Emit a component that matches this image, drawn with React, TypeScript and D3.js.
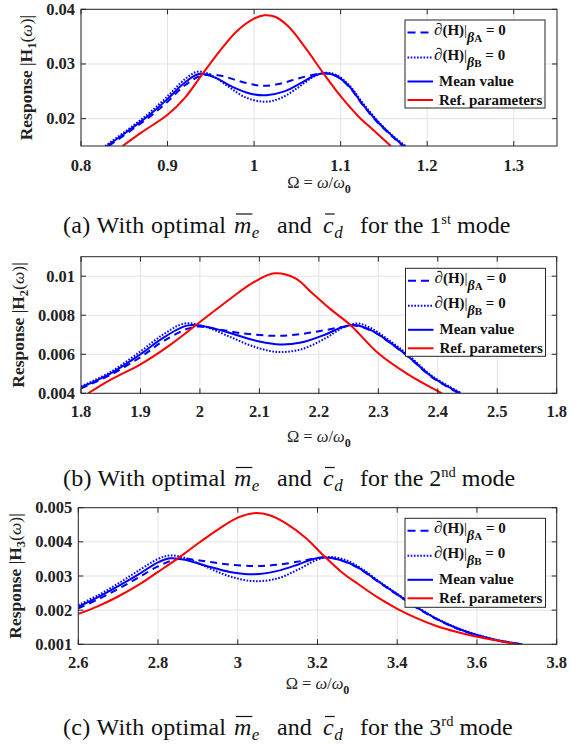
import React, { useEffect, useRef } from 'react';
import * as d3 from 'd3';

type Pt = [number, number];

// ---------------- data: mode 1 ----------------
const mode1XTicks = [0.8, 0.9, 1, 1.1, 1.2, 1.3];
const mode1XTickLabels = ['0.8', '0.9', '1', '1.1', '1.2', '1.3'];
const mode1YTicks = [0.02, 0.03, 0.04];
const mode1YTickLabels = ['0.02', '0.03', '0.04'];
const mode1Dashed: Pt[] = [
  [0.832, 0.015], [0.86, 0.0181], [0.88, 0.0204], [0.9, 0.0231], [0.92, 0.0261], [0.94, 0.0279],
  [0.96, 0.0279], [0.98, 0.027], [1.0, 0.0262], [1.012, 0.026], [1.03, 0.0264], [1.05, 0.0273],
  [1.07, 0.0281], [1.082, 0.0283], [1.095, 0.0278], [1.11, 0.0258], [1.125, 0.0226], [1.144, 0.0191],
  [1.16, 0.0167], [1.172, 0.015],
];
const mode1Dotted: Pt[] = [
  [0.828, 0.015], [0.86, 0.0187], [0.88, 0.0212], [0.9, 0.0241], [0.92, 0.0272], [0.935, 0.0286],
  [0.95, 0.028], [0.97, 0.0259], [0.99, 0.0239], [1.012, 0.0231], [1.03, 0.0237], [1.05, 0.0256],
  [1.068, 0.0276], [1.082, 0.0284], [1.095, 0.028], [1.11, 0.0261], [1.125, 0.023], [1.144, 0.0194],
  [1.16, 0.0169], [1.175, 0.015],
];
const mode1Mean: Pt[] = [
  [0.83, 0.015], [0.845, 0.0167], [0.86, 0.0184], [0.88, 0.0208], [0.9, 0.0236], [0.92, 0.0266],
  [0.937, 0.0282], [0.955, 0.0275], [0.975, 0.0258], [0.995, 0.0246], [1.014, 0.0243], [1.035, 0.025],
  [1.055, 0.0266], [1.07, 0.0279], [1.082, 0.0283], [1.095, 0.0278], [1.11, 0.0259], [1.125, 0.0227],
  [1.144, 0.0192], [1.16, 0.0168], [1.173, 0.015],
];
const mode1Ref: Pt[] = [
  [0.848, 0.015], [0.87, 0.0175], [0.9, 0.0207], [0.92, 0.0238], [0.94, 0.0281], [0.96, 0.0323],
  [0.98, 0.036], [1.0, 0.0383], [1.012, 0.0389], [1.025, 0.0386], [1.04, 0.0368], [1.06, 0.0328],
  [1.08, 0.0283], [1.1, 0.0241], [1.12, 0.0205], [1.14, 0.0176], [1.158, 0.015],
];

// ---------------- data: mode 2 ----------------
const mode2XTicks = [1.8, 1.9, 2, 2.1, 2.2, 2.3, 2.4, 2.5, 2.6];
const mode2XTickLabels = ['1.8', '1.9', '2', '2.1', '2.2', '2.3', '2.4', '2.5', '1.8'];
const mode2YTicks = [0.004, 0.006, 0.008, 0.01];
const mode2YTickLabels = ['0.004', '0.006', '0.008', '0.01'];
const mode2Dashed: Pt[] = [
  [1.8, 0.00425], [1.85, 0.00495], [1.9, 0.00585], [1.94, 0.0067], [1.99, 0.0074], [2.03, 0.00728],
  [2.07, 0.00708], [2.12, 0.00695], [2.16, 0.007], [2.2, 0.00718], [2.24, 0.0074], [2.26, 0.00748],
  [2.29, 0.00718], [2.32, 0.00658], [2.35, 0.00588], [2.39, 0.00483], [2.435, 0.004],
];
const mode2Dotted: Pt[] = [
  [1.8, 0.00435], [1.85, 0.0051], [1.9, 0.00615], [1.94, 0.00705], [1.975, 0.00758], [2.01, 0.0074],
  [2.05, 0.0069], [2.09, 0.0064], [2.13, 0.00612], [2.17, 0.00625], [2.21, 0.0068], [2.24, 0.00735],
  [2.265, 0.00758], [2.29, 0.0073], [2.32, 0.00668], [2.35, 0.00598], [2.39, 0.0049], [2.44, 0.004],
];
const mode2Mean: Pt[] = [
  [1.8, 0.0043], [1.85, 0.00502], [1.9, 0.006], [1.94, 0.00688], [1.98, 0.00748], [2.02, 0.00735],
  [2.06, 0.007], [2.1, 0.00665], [2.135, 0.0065], [2.17, 0.0066], [2.21, 0.007], [2.24, 0.0074],
  [2.26, 0.0075], [2.29, 0.0072], [2.32, 0.0066], [2.35, 0.0059], [2.39, 0.00485], [2.438, 0.004],
];
const mode2Ref: Pt[] = [
  [1.812, 0.004], [1.85, 0.0047], [1.9, 0.00548], [1.95, 0.00648], [2.0, 0.00765], [2.05, 0.00882],
  [2.09, 0.00968], [2.125, 0.01015], [2.16, 0.0099], [2.19, 0.0091], [2.22, 0.0083], [2.253, 0.0075],
  [2.3, 0.00605], [2.35, 0.00497], [2.407, 0.004],
];

// ---------------- data: mode 3 ----------------
const mode3XTicks = [2.6, 2.8, 3, 3.2, 3.4, 3.6, 3.8];
const mode3XTickLabels = ['2.6', '2.8', '3', '3.2', '3.4', '3.6', '3.8'];
const mode3YTicks = [0.001, 0.002, 0.003, 0.004, 0.005];
const mode3YTickLabels = ['0.001', '0.002', '0.003', '0.004', '0.005'];
const mode3Dashed: Pt[] = [
  [2.6, 0.00205], [2.65, 0.00232], [2.7, 0.00262], [2.75, 0.00295], [2.8, 0.00328], [2.85, 0.0035],
  [2.9, 0.00346], [2.96, 0.00336], [3.04, 0.00329], [3.1, 0.00333], [3.16, 0.00344], [3.2, 0.00353],
  [3.22, 0.00355], [3.26, 0.00345], [3.3, 0.00325], [3.35, 0.00285], [3.4, 0.00245], [3.45, 0.00206],
  [3.5, 0.00173], [3.55, 0.00146], [3.6, 0.00126], [3.65, 0.00111], [3.71, 0.001],
];
const mode3Dotted: Pt[] = [
  [2.6, 0.00215], [2.65, 0.00244], [2.7, 0.00278], [2.75, 0.00315], [2.8, 0.0035], [2.83, 0.0036],
  [2.87, 0.00352], [2.92, 0.00327], [2.98, 0.00299], [3.04, 0.00285], [3.1, 0.00293], [3.15, 0.00318],
  [3.2, 0.00348], [3.23, 0.00356], [3.27, 0.00347], [3.31, 0.00322], [3.35, 0.00288], [3.4, 0.00248],
  [3.45, 0.00209], [3.5, 0.00175], [3.55, 0.00148], [3.6, 0.00128], [3.65, 0.00113], [3.715, 0.001],
];
const mode3Mean: Pt[] = [
  [2.6, 0.0021], [2.65, 0.00238], [2.7, 0.0027], [2.75, 0.00304], [2.8, 0.0034], [2.83, 0.00352],
  [2.87, 0.00347], [2.92, 0.0033], [2.98, 0.00312], [3.04, 0.00305], [3.1, 0.00315], [3.15, 0.00333],
  [3.19, 0.0035], [3.22, 0.00354], [3.26, 0.00346], [3.3, 0.00326], [3.35, 0.00286], [3.4, 0.00246],
  [3.45, 0.00207], [3.5, 0.00174], [3.55, 0.00147], [3.6, 0.00127], [3.65, 0.00112], [3.71, 0.001],
];
const mode3Ref: Pt[] = [
  [2.6, 0.00189], [2.65, 0.00212], [2.7, 0.0024], [2.75, 0.00273], [2.8, 0.00312], [2.855, 0.00356],
  [2.9, 0.00395], [2.95, 0.00436], [3.0, 0.00471], [3.04, 0.00484], [3.08, 0.00478], [3.12, 0.00455],
  [3.17, 0.00412], [3.215, 0.0036], [3.26, 0.00312], [3.3, 0.00278], [3.35, 0.00238], [3.4, 0.00204],
  [3.45, 0.00176], [3.5, 0.00153], [3.55, 0.00136], [3.6, 0.00122], [3.65, 0.00111], [3.7, 0.001],
];

const legendLabels = ['βA', 'βB', 'Mean value', 'Ref. parameters'];
const captionLetters = ['a', 'b', 'c'];
const captionOrdinals = ['1', '2', '3'];
const captionSuffixes = ['st', 'nd', 'rd'];

// ---------------- layout ----------------
const W = 585;
const H = 745;
const BLUE = '#0000ff';
const RED = '#ff0000';
const AX = '#262626';
const SERIF = '"Liberation Serif", "Times New Roman", serif';

interface PanelCfg {
  id: number;
  left: number; right: number; top: number; bottom: number;
  xDomain: [number, number]; yDomain: [number, number];
  xTicks: number[]; xTickLabels: string[]; yTicks: number[]; yTickLabels: string[];
  dashed: Pt[]; dotted: Pt[]; mean: Pt[]; ref: Pt[];
  yLabelX: number; tickBase: number; xLabelBase: number;
  legend: { x: number; y: number; w: number; h: number };
  captionBase: number;
}

const panels: PanelCfg[] = [
  {
    id: 0, left: 81, right: 557, top: 9.3, bottom: 146,
    xDomain: [0.8, 1.35], yDomain: [0.015, 0.04],
    xTicks: mode1XTicks, xTickLabels: mode1XTickLabels, yTicks: mode1YTicks, yTickLabels: mode1YTickLabels,
    dashed: mode1Dashed, dotted: mode1Dotted, mean: mode1Mean, ref: mode1Ref,
    yLabelX: 26, tickBase: 170.5, xLabelBase: 188,
    legend: { x: 405, y: 20, w: 140, h: 88 }, captionBase: 232.5,
  },
  {
    id: 1, left: 81, right: 556.7, top: 256.7, bottom: 393.3,
    xDomain: [1.8, 2.6], yDomain: [0.004, 0.011],
    xTicks: mode2XTicks, xTickLabels: mode2XTickLabels, yTicks: mode2YTicks, yTickLabels: mode2YTickLabels,
    dashed: mode2Dashed, dotted: mode2Dotted, mean: mode2Mean, ref: mode2Ref,
    yLabelX: 18, tickBase: 416.5, xLabelBase: 442,
    legend: { x: 405.5, y: 268.3, w: 140, h: 88 }, captionBase: 486,
  },
  {
    id: 2, left: 78.3, right: 556.7, top: 507.7, bottom: 644.3,
    xDomain: [2.6, 3.8], yDomain: [0.001, 0.005],
    xTicks: mode3XTicks, xTickLabels: mode3XTickLabels, yTicks: mode3YTicks, yTickLabels: mode3YTickLabels,
    dashed: mode3Dashed, dotted: mode3Dotted, mean: mode3Mean, ref: mode3Ref,
    yLabelX: 15, tickBase: 667.5, xLabelBase: 689,
    legend: { x: 405, y: 518.3, w: 140.5, h: 89 }, captionBase: 735,
  },
];

function drawPanel(svg: d3.Selection<SVGSVGElement, unknown, null, undefined>, p: PanelCfg) {
  const x = d3.scaleLinear().domain(p.xDomain).range([p.left, p.right]);
  const y = d3.scaleLinear().domain(p.yDomain).range([p.bottom, p.top]);
  const g = svg.append('g');

  g.append('rect').attr('x', p.left).attr('y', p.top)
    .attr('width', p.right - p.left).attr('height', p.bottom - p.top).attr('fill', '#fff');

  // grid
  g.append('g').selectAll('line').data(p.xTicks).join('line')
    .attr('x1', (d) => x(d)).attr('x2', (d) => x(d)).attr('y1', p.top).attr('y2', p.bottom)
    .attr('stroke', '#e4e4e4').attr('stroke-width', 1);
  g.append('g').selectAll('line').data(p.yTicks).join('line')
    .attr('y1', (d) => y(d)).attr('y2', (d) => y(d)).attr('x1', p.left).attr('x2', p.right)
    .attr('stroke', '#e4e4e4').attr('stroke-width', 1);

  // clip
  const clipId = `clip-${p.id}`;
  svg.append('defs').append('clipPath').attr('id', clipId).append('rect')
    .attr('x', p.left).attr('y', p.top - 1).attr('width', p.right - p.left).attr('height', p.bottom - p.top + 1);

  const line = d3.line<Pt>().x((d) => x(d[0])).y((d) => y(d[1])).curve(d3.curveCatmullRom.alpha(0.5));
  const cg = g.append('g').attr('clip-path', `url(#${clipId})`);
  const series = [
    { data: p.dashed, color: BLUE, dash: '7,5' },
    { data: p.dotted, color: BLUE, dash: '1.6,1.6' },
    { data: p.mean, color: BLUE, dash: null },
    { data: p.ref, color: RED, dash: null },
  ];
  series.forEach((s) => {
    cg.append('path').attr('d', line(s.data) as string).attr('fill', 'none')
      .attr('stroke', s.color).attr('stroke-width', 2)
      .attr('stroke-dasharray', s.dash as any)
      .attr('stroke-linejoin', 'round');
  });

  // box
  g.append('rect').attr('x', p.left).attr('y', p.top)
    .attr('width', p.right - p.left).attr('height', p.bottom - p.top)
    .attr('fill', 'none').attr('stroke', AX).attr('stroke-width', 1);

  const tl = 5;
  const tg = g.append('g').attr('stroke', AX).attr('stroke-width', 1);
  p.xTicks.forEach((t) => {
    tg.append('line').attr('x1', x(t)).attr('x2', x(t)).attr('y1', p.bottom).attr('y2', p.bottom - tl);
    tg.append('line').attr('x1', x(t)).attr('x2', x(t)).attr('y1', p.top).attr('y2', p.top + tl);
  });
  p.yTicks.forEach((t) => {
    tg.append('line').attr('y1', y(t)).attr('y2', y(t)).attr('x1', p.left).attr('x2', p.left + tl);
    tg.append('line').attr('y1', y(t)).attr('y2', y(t)).attr('x1', p.right).attr('x2', p.right - tl);
  });

  // tick labels
  g.append('g').selectAll('text').data(p.xTicks).join('text')
    .attr('x', (d) => x(d)).attr('y', p.tickBase).attr('text-anchor', 'middle')
    .attr('font-family', SERIF).attr('font-weight', 'bold').attr('font-size', 16.5).attr('fill', '#222')
    .text((d, i) => p.xTickLabels[i]);
  g.append('g').selectAll('text').data(p.yTicks).join('text')
    .attr('x', p.left - 6).attr('y', (d) => y(d) + 5.5).attr('text-anchor', 'end')
    .attr('font-family', SERIF).attr('font-weight', 'bold').attr('font-size', 16.5).attr('fill', '#222')
    .text((d, i) => p.yTickLabels[i]);

  // x label
  const xl = g.append('text').attr('x', (p.left + p.right) / 2).attr('y', p.xLabelBase)
    .attr('text-anchor', 'middle').attr('font-family', SERIF).attr('font-size', 16.5).attr('fill', '#222');
  xl.append('tspan').text('Ω = ');
  xl.append('tspan').attr('font-style', 'italic').text('ω');
  xl.append('tspan').text('/');
  xl.append('tspan').attr('font-style', 'italic').text('ω');
  xl.append('tspan').attr('dy', 5).attr('font-size', 12).attr('font-weight', 'bold').text('0');

  // y label
  const cy = (p.top + p.bottom) / 2;
  const yl = g.append('text').attr('transform', `translate(${p.yLabelX + 6},${cy}) rotate(-90)`)
    .attr('text-anchor', 'middle').attr('font-family', SERIF).attr('font-size', 17.5).attr('fill', '#222');
  yl.append('tspan').attr('font-weight', 'bold').text('Response ');
  yl.append('tspan').text('|');
  yl.append('tspan').attr('font-weight', 'bold').text('H');
  yl.append('tspan').attr('font-weight', 'bold').attr('font-size', 12.5).attr('dy', 4).text(String(p.id + 1));
  yl.append('tspan').attr('dy', -4).text('(');
  yl.append('tspan').attr('font-style', 'italic').text('ω');
  yl.append('tspan').text(')|');

  // legend
  const L = p.legend;
  const lg = g.append('g');
  lg.append('rect').attr('x', L.x).attr('y', L.y).attr('width', L.w).attr('height', L.h)
    .attr('fill', '#fff').attr('stroke', AX).attr('stroke-width', 1);
  const lineY = [12.5, 37.5, 61.5, 80];
  const textY = [15, 40, 66, 85];
  series.forEach((s, i) => {
    lg.append('line').attr('x1', L.x + 2.5).attr('x2', L.x + 28).attr('y1', L.y + lineY[i]).attr('y2', L.y + lineY[i])
      .attr('stroke', s.color).attr('stroke-width', 2).attr('stroke-dasharray', (i === 0 ? '8,5' : s.dash) as any);
    const t = lg.append('text').attr('x', L.x + (i < 2 ? 29 : 34)).attr('y', L.y + textY[i])
      .attr('font-family', SERIF).attr('font-weight', 'bold').attr('font-size', 15).attr('fill', '#111');
    if (i < 2) {
      const lab = legendLabels[i];
      t.append('tspan').attr('font-style', 'italic').attr('font-weight', 'normal').attr('font-size', 17).text('∂');
      t.append('tspan').text('(H)');
      t.append('tspan').attr('font-weight', 'normal').text('|');
      t.append('tspan').attr('dy', 7).attr('font-style', 'italic').attr('font-size', 14).text(lab[0]);
      t.append('tspan').attr('font-size', 11).text(lab.slice(1));
      t.append('tspan').attr('dy', -7).text(' = 0');
    } else {
      t.text(legendLabels[i]);
    }
  });

  // caption
  const B = p.captionBase;
  const FS = 24;
  const capG = svg.append('g').attr('font-family', SERIF).attr('fill', '#111');
  capG.append('text').attr('x', 63).attr('y', B).attr('font-size', FS)
    .attr('textLength', 163).attr('lengthAdjust', 'spacing')
    .text(`(${captionLetters[p.id]}) With optimal`);
  const mathVar = (xPos: number, v: string, sub: string) => {
    const t = capG.append('text').attr('x', xPos).attr('y', B).attr('font-size', FS);
    const vt = t.append('tspan').attr('font-style', 'italic').text(v);
    t.append('tspan').attr('font-style', 'italic').attr('font-size', 17).attr('dx', 0.5).attr('dy', 5).text(sub);
    const node = vt.node() as SVGTextContentElement;
    const w = node.getComputedTextLength();
    capG.append('line').attr('x1', xPos + 2).attr('x2', xPos + w + 1)
      .attr('y1', B - 18.5).attr('y2', B - 18.5).attr('stroke', '#111').attr('stroke-width', 1.2);
  };
  mathVar(234, 'm', 'e');
  capG.append('text').attr('x', 277).attr('y', B).attr('font-size', FS).text('and');
  mathVar(323, 'c', 'd');
  const tail = capG.append('text').attr('x', 360).attr('y', B).attr('font-size', FS);
  tail.append('tspan').text(`for the ${captionOrdinals[p.id]}`);
  tail.append('tspan').attr('font-size', 14.5).attr('dy', -9).text(captionSuffixes[p.id]);
  tail.append('tspan').attr('dy', 9).text(' mode');
}

export default function App() {
  const ref = useRef<SVGSVGElement>(null);
  useEffect(() => {
    if (!ref.current) return;
    const svg = d3.select(ref.current);
    svg.selectAll('*').remove();
    svg.append('rect').attr('width', W).attr('height', H).attr('fill', '#fff');
    panels.forEach((p) => drawPanel(svg, p));
  }, []);
  return (
    <svg
      ref={ref}
      width={W}
      height={H}
      style={{ position: 'absolute', left: 0, top: 0, display: 'block' }}
    />
  );
}
